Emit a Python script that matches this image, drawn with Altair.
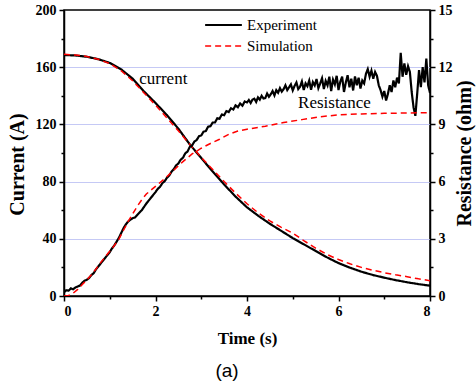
import altair as alt
import pandas as pd

series_names = ["Experiment", "Simulation"]

# Current (A)
cur_exp_t = [0, 0.25, 0.5, 0.75, 1.0, 1.25, 1.5, 1.75, 2.0, 2.25, 2.5, 2.75, 3.0, 3.25, 3.5, 3.75,
             4.0, 4.25, 4.5, 4.75, 5.0, 5.25, 5.5, 5.75, 6.0, 6.25, 6.5, 6.75, 7.0, 7.25, 7.5, 7.75, 8.0]
cur_exp_v = [168.5, 168.2, 167.3, 165.6, 163.0, 158.5, 152.0, 143.0, 135.0, 126.5, 117.0, 106.0, 96.5, 87.0, 78.0, 69.5,
             62.0, 56.0, 50.5, 45.5, 40.5, 36.0, 31.5, 27.0, 23.0, 19.8, 17.0, 14.7, 12.8, 11.1, 9.6, 8.3, 7.2]
cur_sim_t = cur_exp_t
cur_sim_v = [169.0, 168.5, 167.5, 165.5, 162.5, 157.5, 150.5, 142.0, 133.5, 124.5, 115.5, 106.0, 97.0, 88.5, 80.0, 72.0,
             64.5, 58.0, 52.5, 48.0, 44.0, 38.5, 33.5, 29.0, 25.5, 22.5, 20.0, 18.0, 16.3, 14.8, 13.5, 12.0, 10.7]

# Resistance (ohm), experiment: 0 - 4 s
res_exp_t_a = [0.00, 0.05, 0.10, 0.15, 0.20, 0.25, 0.30, 0.35, 0.40, 0.45, 0.50, 0.55, 0.60, 0.65, 0.70, 0.75,
               0.80, 0.85, 0.90, 0.95, 1.00, 1.05, 1.10, 1.15, 1.20, 1.25, 1.30, 1.35, 1.40, 1.45, 1.50, 1.55,
               1.60, 1.70, 1.80, 1.90,
               2.00, 2.05, 2.10, 2.15, 2.20, 2.25, 2.30, 2.35, 2.40, 2.45, 2.50, 2.55, 2.60, 2.65, 2.70, 2.75,
               2.80, 2.85, 2.90, 2.95, 3.00, 3.05, 3.10, 3.15, 3.20, 3.25, 3.30, 3.35, 3.40, 3.45, 3.50, 3.55,
               3.60, 3.65, 3.70, 3.75, 3.80, 3.85, 3.90, 3.95]
res_exp_v_a = [0.20, 0.30, 0.28, 0.40, 0.35, 0.45, 0.50, 0.55, 0.70, 0.80, 0.85, 0.95, 1.10, 1.20, 1.40, 1.55,
               1.70, 1.85, 2.00, 2.15, 2.30, 2.50, 2.65, 2.85, 3.05, 3.30, 3.55, 3.75, 3.90, 4.00, 4.08, 4.12,
               4.25, 4.50, 4.85, 5.15,
               5.45, 5.62, 5.73, 5.92, 6.02, 6.20, 6.32, 6.52, 6.65, 6.85, 6.95, 7.15, 7.25, 7.48, 7.58, 7.82,
               7.90, 8.10, 8.18, 8.38, 8.42, 8.62, 8.65, 8.88, 8.90, 9.10, 9.10, 9.32, 9.30, 9.52, 9.48, 9.70,
               9.65, 9.85, 9.78, 10.00, 9.90, 10.10, 9.98, 10.20]
# Resistance (ohm), experiment: 4 - 8 s (noisy part)
res_exp_t_b = [4.00, 4.04, 4.08, 4.12, 4.16, 4.20, 4.24, 4.28, 4.32, 4.36,
               4.40, 4.44, 4.48, 4.52, 4.56, 4.60, 4.64, 4.68, 4.72, 4.76,
               4.80, 4.84, 4.88, 4.92, 4.96, 5.00, 5.04, 5.08, 5.12, 5.16,
               5.20, 5.24, 5.28, 5.32, 5.36, 5.40, 5.44, 5.48, 5.52, 5.56,
               5.60, 5.64, 5.68, 5.72, 5.76, 5.80, 5.84, 5.88, 5.92, 5.96,
               6.00, 6.04, 6.08, 6.12, 6.16, 6.20, 6.24, 6.28, 6.32, 6.36,
               6.40, 6.44, 6.48, 6.52, 6.56, 6.60, 6.64, 6.68, 6.72, 6.76,
               6.80, 6.84, 6.88, 6.92, 6.96, 7.00, 7.04, 7.08, 7.12, 7.16,
               7.20, 7.24, 7.28, 7.32, 7.36, 7.40, 7.44, 7.48, 7.52, 7.56,
               7.60, 7.64, 7.68, 7.72, 7.76, 7.80, 7.84, 7.88, 7.92, 7.96,
               8.00]
res_exp_v_b = [10.15, 10.28, 10.12, 10.30, 10.35, 10.18, 10.42, 10.30, 10.50, 10.36,
               10.38, 10.62, 10.45, 10.58, 10.75, 10.52, 10.80, 10.66, 10.90, 10.72,
               10.85, 11.05, 10.80, 10.95, 11.10, 10.78, 11.02, 11.20, 10.85, 10.98,
               11.25, 10.80, 11.15, 11.00, 11.30, 10.82, 11.22, 11.05, 11.38, 10.90,
               11.15, 11.42, 10.85, 11.28, 11.05, 11.50, 10.75, 11.35, 11.10, 11.55,
               10.80, 11.25, 11.50, 10.70, 11.20, 11.58, 10.95, 11.40, 10.78, 11.52,
               11.05, 11.45, 10.88, 11.30, 11.15, 11.65, 11.90, 11.50, 11.82, 11.40,
               11.75, 11.55, 11.05, 10.80, 10.45, 10.75, 10.25, 10.60, 11.05, 10.70,
               11.30, 10.95, 11.45, 11.15, 12.75, 11.50, 12.20, 11.60, 12.05, 11.75,
               10.70, 9.90, 9.45, 10.60, 11.85, 10.95, 12.00, 11.20, 12.45, 11.05,
               10.65]
res_exp_t = res_exp_t_a + res_exp_t_b
res_exp_v = res_exp_v_a + res_exp_v_b

# Resistance (ohm), simulation
res_sim_t = [0.0, 0.1, 0.2, 0.3, 0.4, 0.5, 0.6, 0.7, 0.8, 0.9, 1.0, 1.1, 1.2, 1.3, 1.4, 1.5, 1.6, 1.7, 1.8, 1.9,
             2.0, 2.2, 2.4, 2.6, 2.8, 3.0, 3.2, 3.4, 3.6, 3.8, 4.0, 4.4, 4.8, 5.2, 5.6, 6.0, 6.5, 7.0, 7.5, 8.0]
res_sim_v = [0.0, 0.03, 0.15, 0.35, 0.6, 0.85, 1.12, 1.42, 1.75, 2.05, 2.35, 2.65, 2.98, 3.45, 3.9, 4.3, 4.7, 5.05, 5.35, 5.55,
             5.75, 6.15, 6.6, 7.05, 7.45, 7.75, 8.0, 8.22, 8.48, 8.65, 8.75, 8.9, 9.1, 9.25, 9.4, 9.5, 9.55, 9.58, 9.6, 9.62]

# Annotations
cur_label = ["current"]
cur_label_t = [2.17]
cur_label_v = [152]
res_label = ["Resistance"]
res_label_t = [5.91]
res_label_v = [10.12]

x_ticks = [0, 1, 2, 3, 4, 5, 6, 7, 8]
y_left_ticks = [0, 20, 40, 60, 80, 100, 120, 140, 160, 180, 200]
y_right_ticks = [0, 1.5, 3, 4.5, 6, 7.5, 9, 10.5, 12, 13.5, 15]

cur_df = pd.concat([
    pd.DataFrame({"t": cur_exp_t, "v": cur_exp_v, "Series": series_names[0]}),
    pd.DataFrame({"t": cur_sim_t, "v": cur_sim_v, "Series": series_names[1]}),
])
res_df = pd.concat([
    pd.DataFrame({"t": res_exp_t, "v": res_exp_v, "Series": series_names[0]}),
    pd.DataFrame({"t": res_sim_t, "v": res_sim_v, "Series": series_names[1]}),
])
cur_lab_df = pd.DataFrame({"t": cur_label_t, "v": cur_label_v, "label": cur_label})
res_lab_df = pd.DataFrame({"t": res_label_t, "v": res_label_v, "label": res_label})

SERIF = "Liberation Serif"

def minor_dash(step):
    return {"condition": {"test": f"datum.value % {step} === 0", "value": [10, 0]}, "value": [3, 10]}

x_axis = alt.Axis(
    title="Time (s)", values=x_ticks, labelExpr="datum.value % 2 === 0 ? datum.label : ''",
    tickDash=minor_dash(2), grid=False, titlePadding=12, labelPadding=3, titleFontSize=17,
)
y_left_axis = alt.Axis(
    title="Current (A)", values=y_left_ticks, labelExpr="datum.value % 40 === 0 ? datum.label : ''",
    tickDash=minor_dash(40), grid=True, gridColor="#c5c9f5", gridWidth=1,
    gridOpacity={"condition": {"test": "datum.value % 40 === 0 && datum.value > 0 && datum.value < 200", "value": 1}, "value": 0},
    titlePadding=8, labelPadding=3, titleFontSize=20, titleY=154,
)
y_right_axis = alt.Axis(
    title="Resistance (ohm)", orient="right", values=y_right_ticks,
    labelExpr="datum.value % 3 === 0 ? datum.label : ''",
    tickDash=minor_dash(3), grid=False, titleAngle=270, titlePadding=22, labelPadding=3, titleFontSize=20,
)

x_enc = alt.X("t:Q", scale=alt.Scale(domain=[0, 8], nice=False), axis=x_axis)
y_cur = alt.Y("v:Q", scale=alt.Scale(domain=[0, 200], nice=False), axis=y_left_axis)
y_res = alt.Y("v:Q", scale=alt.Scale(domain=[0, 15], nice=False), axis=y_right_axis)

legend = alt.Legend(
    title=None, orient="none", legendX=140, legendY=7, symbolType="stroke", symbolSize=1350,
    symbolStrokeWidth=1.8, labelOffset=4, rowPadding=5, padding=0, clipHeight=16,
)
color_enc = alt.Color("Series:N", scale=alt.Scale(domain=series_names, range=["black", "#ff0000"]), legend=legend)
dash_enc = alt.StrokeDash("Series:N", scale=alt.Scale(domain=series_names, range=[[1, 0], [6, 4]]), legend=legend)
width_enc = alt.StrokeWidth("Series:N", scale=alt.Scale(domain=series_names, range=[2.2, 1.5]), legend=None)

cur_lines = alt.Chart(cur_df).mark_line(clip=True).encode(
    x=x_enc, y=y_cur, color=color_enc, strokeDash=dash_enc, strokeWidth=width_enc, detail="Series:N"
)
cur_text = alt.Chart(cur_lab_df).mark_text(font=SERIF, fontSize=17, color="black").encode(
    x=x_enc, y=y_cur, text="label:N"
)
res_lines = alt.Chart(res_df).mark_line(clip=True).encode(
    x=x_enc, y=y_res, color=color_enc, strokeDash=dash_enc, strokeWidth=width_enc, detail="Series:N"
)
res_text = alt.Chart(res_lab_df).mark_text(font=SERIF, fontSize=17, color="black").encode(
    x=x_enc, y=y_res, text="label:N"
)

chart = alt.layer(
    alt.layer(cur_lines, cur_text),
    alt.layer(res_lines, res_text),
).resolve_scale(y="independent").properties(
    width=366, height=286,
    autosize=alt.AutoSizeParams(type="none"),
    padding={"left": 64, "top": 10, "right": 46, "bottom": 91},
    title=alt.TitleParams(text="(a)", orient="bottom", font="Liberation Sans", fontSize=19,
                          fontWeight="normal", color="black", offset=16, dx=-20),
).configure(
    font=SERIF
).configure_view(
    stroke="black", strokeWidth=1.5
).configure_axis(
    labelFont=SERIF, labelFontWeight="bold", labelFontSize=14, labelColor="black",
    titleFont=SERIF, titleFontWeight="bold", titleColor="black",
    domainColor="black", domainWidth=1.5, tickColor="black", tickWidth=1.5, tickSize=5,
).configure_legend(
    labelFont=SERIF, labelFontSize=15, labelColor="black",
)

chart.save("out.html", embed_options={"renderer": "svg", "actions": False})
